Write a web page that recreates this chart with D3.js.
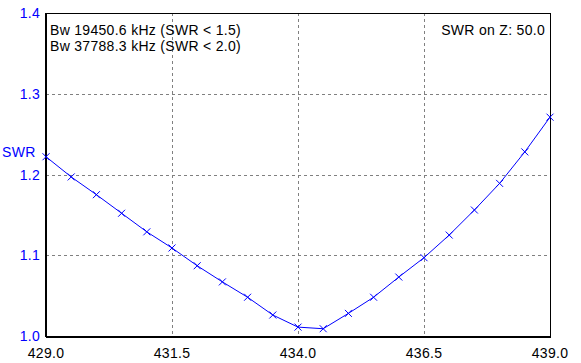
<!DOCTYPE html>
<html>
<head>
<script src="https://cdn.jsdelivr.net/npm/d3@7"></script>
<style>
  body { margin: 0; background: #fff; }
  text { font-family: Arial, "Liberation Sans", sans-serif; font-size: 14px; letter-spacing: 0.3px; }
</style>
</head>
<body>
<div id="viz"></div>
<script>
// frequency (MHz) and SWR
var freqs = [429.0, 429.5, 430.0, 430.5, 431.0, 431.5, 432.0, 432.5, 433.0, 433.5, 434.0,
             434.5, 435.0, 435.5, 436.0, 436.5, 437.0, 437.5, 438.0, 438.5, 439.0];
var swr   = [1.222, 1.197, 1.175, 1.152, 1.129, 1.109, 1.087, 1.067, 1.048, 1.026, 1.011,
             1.009, 1.028, 1.048, 1.073, 1.097, 1.125, 1.156, 1.189, 1.228, 1.271];
var xTicks = [429.0, 431.5, 434.0, 436.5, 439.0];
var yTicks = [1.0, 1.1, 1.2, 1.3, 1.4];
var infoLeft = ["Bw 19450.6 kHz (SWR < 1.5)", "Bw 37788.3 kHz (SWR < 2.0)"];
var infoRight = "SWR on Z: 50.0";

var W = 581, H = 363;
var L = 46, R = 550, T = 13, B = 336;

var svg = d3.select("#viz").append("svg")
    .attr("width", W)
    .attr("height", H);

svg.append("rect").attr("width", W).attr("height", H).attr("fill", "#fff");

var x = d3.scaleLinear().domain([429, 439]).range([L, R]);
var y = d3.scaleLinear().domain([1.0, 1.4]).range([B, T]);

// grid
svg.selectAll(".gx").data(xTicks.slice(1, -1)).enter().append("line")
    .attr("x1", function(d){ return Math.round(x(d)) + 0.5; })
    .attr("x2", function(d){ return Math.round(x(d)) + 0.5; })
    .attr("y1", T).attr("y2", B)
    .attr("stroke", "#808080").attr("stroke-dasharray", "3,3");
svg.selectAll(".gy").data(yTicks.slice(1, -1)).enter().append("line")
    .attr("y1", function(d){ return Math.round(y(d)) + 0.5; })
    .attr("y2", function(d){ return Math.round(y(d)) + 0.5; })
    .attr("x1", L).attr("x2", R)
    .attr("stroke", "#808080").attr("stroke-dasharray", "3,3");

// frame
svg.append("rect")
    .attr("x", L + 0.5).attr("y", T + 0.5)
    .attr("width", R - L).attr("height", B - T)
    .attr("fill", "none").attr("stroke", "#000");
svg.append("line").attr("x1", L).attr("x2", L).attr("y1", T).attr("y2", B + 1)
    .attr("stroke", "#000").attr("stroke-width", 2);
svg.append("line").attr("x1", L).attr("x2", R + 1).attr("y1", B + 1).attr("y2", B + 1)
    .attr("stroke", "#000").attr("stroke-width", 2);

// tick labels
svg.selectAll(".xl").data(xTicks).enter().append("text")
    .attr("x", function(d){ return x(d); })
    .attr("y", 358)
    .attr("text-anchor", "middle")
    .attr("fill", "#000")
    .text(function(d){ return d.toFixed(1); });
svg.selectAll(".yl").data(yTicks).enter().append("text")
    .attr("x", 40)
    .attr("y", function(d){ return y(d) + 5; })
    .attr("text-anchor", "end")
    .attr("fill", "#0000ff")
    .text(function(d){ return d.toFixed(1); });
svg.append("text").attr("x", 2).attr("y", 157).attr("fill", "#0000ff").text("SWR");

// info text
svg.selectAll(".info").data(infoLeft).enter().append("text")
    .attr("x", 50)
    .attr("y", function(d, i){ return 35 + i * 16; })
    .attr("fill", "#000")
    .text(function(d){ return d; });
svg.append("text").attr("x", 545).attr("y", 35).attr("text-anchor", "end")
    .attr("fill", "#000").text(infoRight);

// curve
var pts = freqs.map(function(f, i){ return [f, swr[i]]; });
var line = d3.line().x(function(d){ return x(d[0]); }).y(function(d){ return y(d[1]); });
svg.append("path").datum(pts)
    .attr("d", line)
    .attr("fill", "none").attr("stroke", "#0000ff").attr("stroke-width", 1);

// x markers
svg.selectAll(".mk").data(pts).enter().append("path")
    .attr("d", function(d){
        var cx = x(d[0]), cy = y(d[1]), s = 3.5;
        return "M" + (cx - s) + "," + (cy - s) + "L" + (cx + s) + "," + (cy + s) +
               "M" + (cx - s) + "," + (cy + s) + "L" + (cx + s) + "," + (cy - s);
    })
    .attr("stroke", "#0000ff").attr("fill", "none");
</script>
</body>
</html>
